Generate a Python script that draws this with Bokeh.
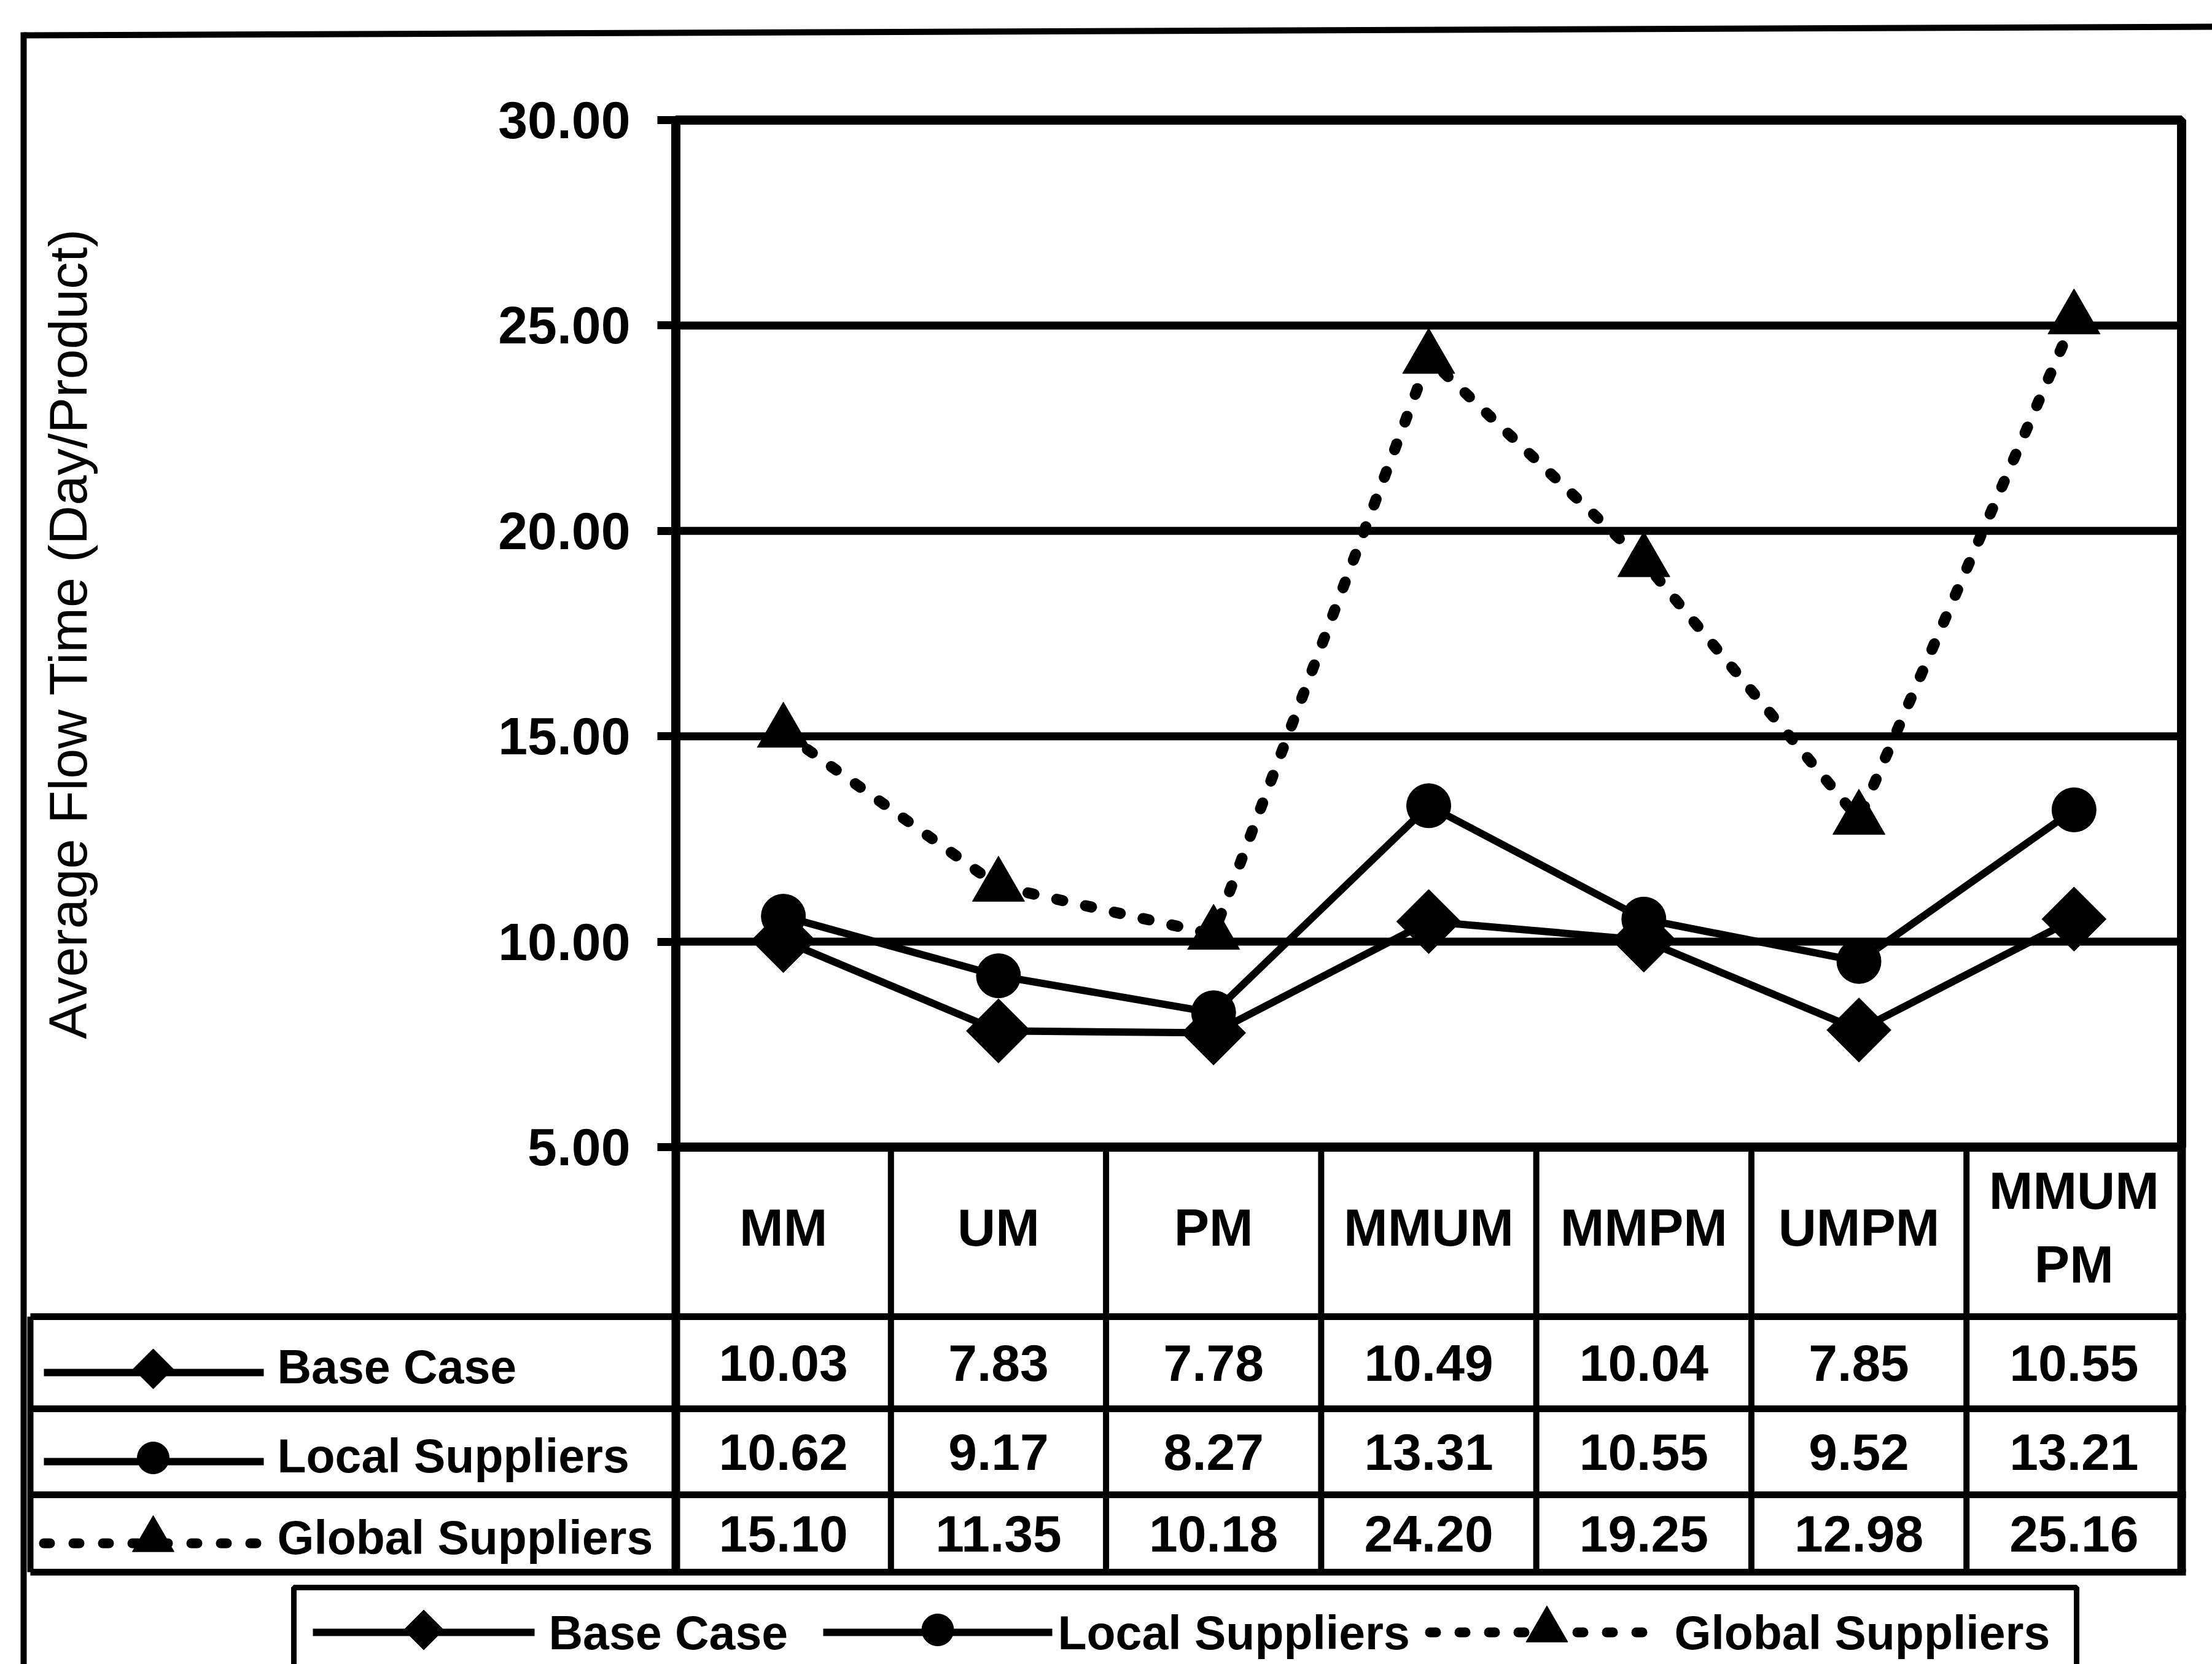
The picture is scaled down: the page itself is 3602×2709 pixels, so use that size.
import math
from bokeh.plotting import figure
from bokeh.models import Range1d, FixedTicker, NumeralTickFormatter, LinearAxis
from bokeh.core.properties import value
from bokeh.embed import file_html
from bokeh.resources import INLINE

# ---------------- data ----------------
categories = ["MM", "UM", "PM", "MMUM", "MMPM", "UMPM", "MMUMPM"]
header_labels = ["MM", "UM", "PM", "MMUM", "MMPM", "UMPM", "MMUM\nPM"]
series_names = ["Base Case", "Local Suppliers", "Global Suppliers"]
base_case = [10.03, 7.83, 7.78, 10.49, 10.04, 7.85, 10.55]
local_suppliers = [10.62, 9.17, 8.27, 13.31, 10.55, 9.52, 13.21]
global_suppliers = [15.10, 11.35, 10.18, 24.20, 19.25, 12.98, 25.16]
y_ticks = [5, 10, 15, 20, 25, 30]
y_title = "Average Flow Time (Day/Product)"

# ---------------- layout constants (canvas pixels) ----------------
W, H = 3602, 2709
FL, FR, FT, FB = 1100, 3552, 195, 1867       # chart frame
FONT = "Liberation Sans"
BLACK = "black"

ncols = len(categories)
unit = (FR - FL) / ncols                      # px per category column
ymin, ymax = y_ticks[0], y_ticks[-1]
ppu = (FB - FT) / (ymax - ymin)               # px per y unit

series_values = [base_case, local_suppliers, global_suppliers]
marker_of = ["square", "circle", "triangle"]
angle_of = [math.pi / 4, 0, 0]
chart_size = [74, 72, 85]
small_size = [46, 52, 68]
dash_of = ["solid", "solid", "10 38"]
lw_of = [12, 12, 18]
cap_of = ["butt", "butt", "round"]


def px(x):
    return (x - FL) / unit


p = figure(width=W, height=H,
           x_range=Range1d(px(0), px(W)), y_range=Range1d(H, 0),
           x_axis_location=None, y_axis_location=None,
           toolbar_location=None, output_backend="svg", min_border=0)
p.outline_line_color = None
p.background_fill_color = "white"
p.border_fill_color = "white"
p.grid.visible = False
p.extra_y_ranges = {"chart": Range1d(ymin - (H - FB) / ppu, ymax + FT / ppu)}

xs = [i + 0.5 for i in range(ncols)]

# ---------------- chart ----------------
p.segment(x0=[0] * len(y_ticks), x1=[ncols] * len(y_ticks), y0=y_ticks, y1=y_ticks,
          y_range_name="chart", line_width=13, line_color=BLACK)
p.quad(left=[0], right=[ncols], bottom=[ymin], top=[ymax], y_range_name="chart",
       fill_alpha=0, line_color=BLACK, line_width=15)

ax = LinearAxis(y_range_name="chart", fixed_location=0, bounds=(ymin, ymax))
ax.ticker = FixedTicker(ticks=y_ticks)
ax.formatter = NumeralTickFormatter(format="0.00")
ax.major_label_text_font = FONT
ax.major_label_text_font_style = "bold"
ax.major_label_text_font_size = "86px"
ax.major_label_text_color = BLACK
ax.major_tick_out = 30
ax.major_tick_in = 0
ax.minor_tick_out = 0
ax.minor_tick_in = 0
ax.major_tick_line_width = 13
ax.major_tick_line_color = BLACK
ax.axis_line_width = 15
ax.axis_line_color = BLACK
ax.major_label_standoff = 44
ax.axis_label = y_title
ax.axis_label_text_font = FONT
ax.axis_label_text_font_style = "normal"
ax.axis_label_text_font_size = "88px"
ax.axis_label_text_color = BLACK
ax.axis_label_standoff = 648
p.add_layout(ax, "left")

for k in [2, 1, 0]:
    p.line(xs, series_values[k], y_range_name="chart", line_width=lw_of[k], line_color=BLACK,
           line_dash=dash_of[k], line_cap=cap_of[k], line_join="round")
    p.scatter(xs, series_values[k], y_range_name="chart", marker=marker_of[k],
              angle=angle_of[k], size=chart_size[k], fill_color=BLACK, line_color=BLACK)

# ---------------- outer border ----------------
p.segment(x0=[px(38)], y0=[57], x1=[px(W + 20)], y1=[43], line_width=10, line_color=BLACK)
p.segment(x0=[px(38)], y0=[52], x1=[px(38)], y1=[H + 20], line_width=10, line_color=BLACK)

# ---------------- data table ----------------
row_lines = [2143, 2293, 2433, 2559]
row_centers = [(row_lines[i] + row_lines[i + 1]) / 2 for i in range(3)]
LABEL_LEFT = 49

p.segment(x0=list(range(ncols + 1)), y0=[FB] * (ncols + 1),
          x1=list(range(ncols + 1)), y1=[row_lines[-1]] * (ncols + 1),
          line_width=[14] + [10] * (ncols - 1) + [14], line_color=BLACK)
p.segment(x0=[px(LABEL_LEFT)] * 4, y0=row_lines, x1=[ncols + 0.02] * 4, y1=row_lines,
          line_width=11, line_color=BLACK)
p.segment(x0=[px(LABEL_LEFT)], y0=[row_lines[0]], x1=[px(LABEL_LEFT)], y1=[row_lines[-1]],
          line_width=10, line_color=BLACK)

p.text(x=xs, y=[1997] * ncols, text=header_labels, text_align="center",
       text_baseline="middle", text_font=value(FONT), text_font_style="bold",
       text_font_size="86px", text_color=BLACK, text_line_height=1.25)

for k in range(3):
    yc = row_centers[k]
    p.text(x=xs, y=[yc] * ncols, text=[f"{v:.2f}" for v in series_values[k]],
           text_align="center", text_baseline="middle", text_font=value(FONT),
           text_font_style="bold", text_font_size="84px", text_color=BLACK)
    p.line(x=[px(71), px(429)], y=[yc + 16] * 2, line_width=lw_of[k] if k < 2 else 16,
           line_color=BLACK, line_dash=dash_of[k], line_cap=cap_of[k])
    p.scatter(x=[px(249)], y=[yc + 10], marker=marker_of[k], angle=angle_of[k],
              size=small_size[k], fill_color=BLACK, line_color=BLACK)
    p.text(x=[px(451)], y=[yc + 6], text=[series_names[k]], text_align="left",
           text_baseline="middle", text_font=value(FONT), text_font_style="bold",
           text_font_size="77px", text_color=BLACK)

# ---------------- bottom legend ----------------
p.quad(left=[px(478)], right=[px(3381)], top=[2584], bottom=[H + 200],
       fill_alpha=0, line_color=BLACK, line_width=9)
leg_lines = [(509, 870), (1340, 1713), (2328, 2709)]
leg_text_x = [893, 1722, 2726]
LEG_Y = 2657
for k in range(3):
    a, b = leg_lines[k]
    p.line(x=[px(a), px(b)], y=[LEG_Y] * 2, line_width=lw_of[k] if k < 2 else 16,
           line_color=BLACK, line_dash=dash_of[k], line_cap=cap_of[k])
    p.scatter(x=[px((a + b) / 2)], y=[LEG_Y - 4], marker=marker_of[k], angle=angle_of[k],
              size=small_size[k], fill_color=BLACK, line_color=BLACK)
    p.text(x=[px(leg_text_x[k])], y=[LEG_Y], text=[series_names[k]], text_align="left",
           text_baseline="middle", text_font=value(FONT), text_font_style="bold",
           text_font_size="77px", text_color=BLACK)

open("out.html", "w").write(file_html(p, INLINE))
